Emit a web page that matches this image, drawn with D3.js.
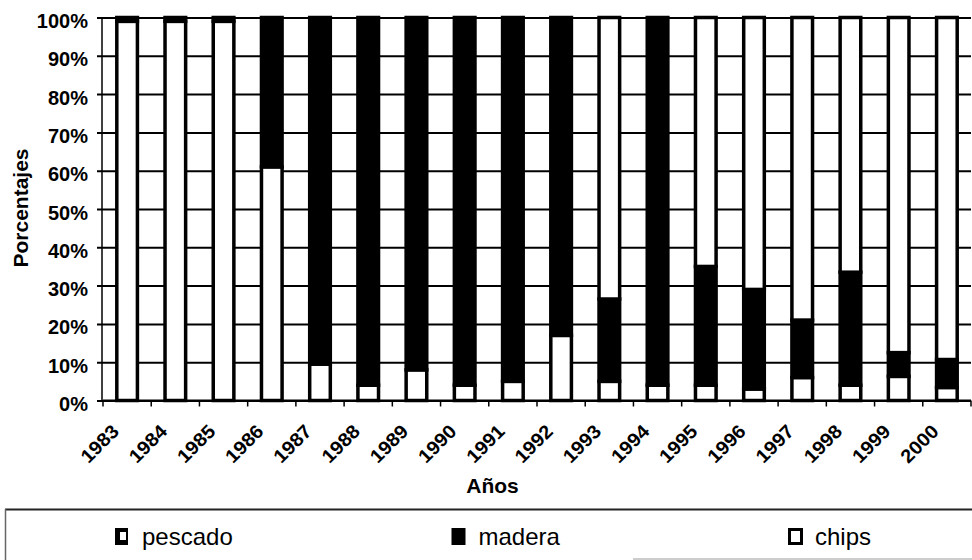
<!DOCTYPE html>
<html>
<head>
<meta charset="utf-8">
<script src="https://cdn.jsdelivr.net/npm/d3@7"></script>
<style>
  html, body { margin: 0; padding: 0; background: #fff; }
  svg { display: block; font-family: "Liberation Sans", Arial, sans-serif; }
</style>
</head>
<body>
<svg id="chart" width="972" height="560"></svg>
<script>
// ---- data ----
const years = ["1983","1984","1985","1986","1987","1988","1989","1990","1991",
               "1992","1993","1994","1995","1996","1997","1998","1999","2000"];
const pescado = [99, 99, 99, 61, 9.5, 4, 8, 4, 5, 17, 5, 4, 4, 3, 6, 4, 6.3, 3.4];
const madera  = [1, 1, 1, 39, 90.5, 96, 92, 96, 95, 83, 21.5, 96, 31, 26, 15, 29.5, 6.2, 7.3];
const chips   = [0, 0, 0, 0, 0, 0, 0, 0, 0, 0, 73.5, 0, 65, 71, 79, 66.5, 87.5, 89.3];
const seriesKeys = ["pescado", "madera", "chips"];
const yTickValues = [0, 10, 20, 30, 40, 50, 60, 70, 80, 90, 100];
const yTickLabels = ["0%","10%","20%","30%","40%","50%","60%","70%","80%","90%","100%"];
const xTitle = "Años";
const yTitle = "Porcentajes";

// ---- build table ----
const table = years.map((yr, i) => ({ year: yr, pescado: pescado[i], madera: madera[i], chips: chips[i] }));

const svg = d3.select("#chart");
const plotLeft = 103, plotRight = 971, plotTop = 17.5, plotBottom = 400.5;

const x = d3.scaleBand().domain(years).range([plotLeft, plotRight]).paddingInner(0.5).paddingOuter(0.25);
const y = d3.scaleLinear().domain([0, 100]).range([plotBottom, plotTop]);

// gridlines + y labels
const yAxis = d3.axisLeft(y)
  .tickValues(yTickValues)
  .tickFormat((d, i) => yTickLabels[i])
  .tickSize(-(plotRight - plotLeft + 6))
  .tickPadding(9);
const gy = svg.append("g").attr("transform", "translate(97,0)").call(yAxis);
gy.select(".domain").remove();
gy.selectAll(".tick line").attr("stroke", "#000").attr("stroke-width", 2);
gy.selectAll(".tick text")
  .attr("fill", "#000")
  .attr("font-size", 20)
  .attr("font-weight", "bold")
  .attr("font-family", "Liberation Sans, Arial, sans-serif")
  .attr("dy", null)
  .attr("y", 10);

// y axis line
svg.append("line")
  .attr("x1", 102).attr("x2", 102)
  .attr("y1", y(100)).attr("y2", y(0))
  .attr("stroke", "#000").attr("stroke-width", 1.5);

// stacked bars
const stack = d3.stack().keys(seriesKeys);
const layers = stack(table);
const styles = {
  pescado: { fill: "#fff", stroke: "#000" },
  madera:  { fill: "#000", stroke: "#000" },
  chips:   { fill: "#fff", stroke: "#000" }
};
const sw = 3.5;
svg.append("g").selectAll("g")
  .data(layers)
  .join("g")
  .each(function (layer) {
    d3.select(this).selectAll("rect")
      .data(layer.filter(d => d[1] - d[0] > 0))
      .join("rect")
      .attr("x", d => x(d.data.year) + sw / 2)
      .attr("width", x.bandwidth() - sw)
      .attr("y", d => y(d[1]))
      .attr("height", d => y(d[0]) - y(d[1]))
      .attr("fill", styles[layer.key].fill)
      .attr("stroke", styles[layer.key].stroke)
      .attr("stroke-width", sw);
  });

// x axis line
svg.append("line")
  .attr("x1", plotLeft).attr("x2", plotRight)
  .attr("y1", y(0)).attr("y2", y(0))
  .attr("stroke", "#000").attr("stroke-width", 2);

// x boundary ticks
const bounds = years.map(d => x(d) + x.bandwidth() / 2 - x.step() / 2);
bounds.push(bounds[bounds.length - 1] + x.step());
svg.append("g").selectAll("line")
  .data(bounds)
  .join("line")
  .attr("x1", d => d).attr("x2", d => d)
  .attr("y1", y(0)).attr("y2", y(0) + 6)
  .attr("stroke", "#000").attr("stroke-width", 1.5);

// x labels
const xAxis = d3.axisBottom(x).tickSize(0);
const gx = svg.append("g").attr("transform", `translate(0,${y(0)})`).call(xAxis);
gx.select(".domain").remove();
gx.selectAll(".tick text")
  .attr("fill", "#000")
  .attr("font-size", 19)
  .attr("font-weight", "bold")
  .attr("font-family", "Liberation Sans, Arial, sans-serif")
  .attr("text-anchor", "end")
  .attr("x", 0).attr("y", 0).attr("dy", null)
  .attr("transform", "translate(-7,32) rotate(-45) scale(1.06,1)");

// axis titles
svg.append("text")
  .attr("x", 492.5).attr("y", 493)
  .attr("text-anchor", "middle")
  .attr("font-size", 21).attr("font-weight", "bold")
  .text(xTitle);
svg.append("text")
  .attr("transform", "translate(28,208) rotate(-90)")
  .attr("text-anchor", "middle")
  .attr("font-size", 21).attr("font-weight", "bold")
  .text(yTitle);

// legend box
svg.append("line").attr("x1", 5).attr("x2", 972).attr("y1", 509.5).attr("y2", 509.5)
  .attr("stroke", "#222").attr("stroke-width", 2);
svg.append("line").attr("x1", 5.5).attr("x2", 5.5).attr("y1", 509).attr("y2", 560)
  .attr("stroke", "#666").attr("stroke-width", 1.5);
svg.append("line").attr("x1", 633).attr("x2", 972).attr("y1", 559).attr("y2", 559)
  .attr("stroke", "#bbb").attr("stroke-width", 1.5);

const legend = svg.append("g").selectAll("g")
  .data(seriesKeys)
  .join("g")
  .attr("transform", (d, i) => `translate(${115 + i * 336.5},0)`);

legend.each(function (key) {
  const g = d3.select(this);
  if (key === "pescado") {
    g.append("rect").attr("x", 0).attr("y", 528).attr("width", 13).attr("height", 17).attr("fill", "#000");
    g.append("rect").attr("x", 5).attr("y", 532).attr("width", 6).attr("height", 8).attr("fill", "#fff");
  } else if (key === "madera") {
    g.append("rect").attr("x", 0).attr("y", 528).attr("width", 14).attr("height", 17).attr("fill", "#000");
  } else {
    g.append("rect").attr("x", 1.5).attr("y", 529.5).attr("width", 12).attr("height", 14)
      .attr("fill", "#fff").attr("stroke", "#000").attr("stroke-width", 3);
  }
  g.append("text")
    .attr("x", 27).attr("y", 545)
    .attr("font-size", 24)
    .text(key);
});
</script>
</body>
</html>
